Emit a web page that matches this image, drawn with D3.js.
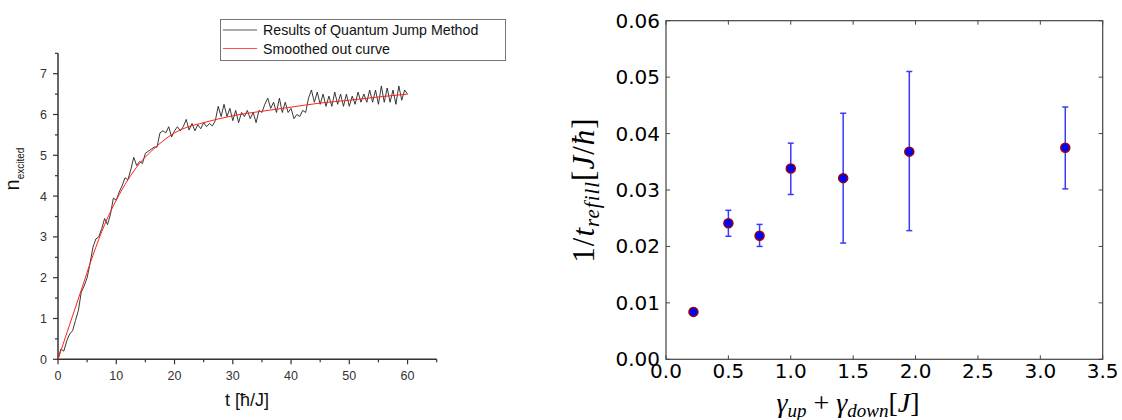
<!DOCTYPE html>
<html>
<head>
<meta charset="utf-8">
<script src="https://cdn.jsdelivr.net/npm/d3@7"></script>
<style>
  body { margin: 0; background: #fff; }
  svg { display: block; }
</style>
</head>
<body>
<div id="chart"></div>
<script>
// left panel: quantum jump run, sampled every 0.5 hbar/J
const jumpT = d3.range(0, 60.01, 0.5);
const jumpN = [
  0, 0.25, 0.2, 0.45, 0.62, 0.7, 0.95, 1.2, 1.65, 1.8,
  2.0, 2.35, 2.75, 2.95, 3.0, 3.2, 3.45, 3.3, 3.55, 3.95,
  3.9, 4.1, 4.25, 4.45, 4.4, 4.65, 4.95, 4.75, 4.85, 4.8,
  5.05, 5.1, 5.15, 5.2, 5.2, 5.55, 5.6, 5.55, 5.7, 5.45,
  5.6, 5.7, 5.6, 5.7, 5.88, 5.62, 5.78, 5.6, 5.75, 5.65,
  5.8, 5.7, 5.78, 5.72, 5.85, 6.2, 5.95, 6.25, 5.95, 6.15,
  5.85, 6.1, 5.8, 6.05, 5.95, 6.1, 5.9, 6.05, 5.8, 6.1,
  6.05, 6.25, 6.4, 6.15, 6.3, 6.05, 6.4, 6.05, 6.3, 6.05,
  6.15, 5.9, 6.0, 5.95, 6.1, 6.05, 6.4, 6.6, 6.3, 6.55,
  6.25, 6.5, 6.2, 6.45, 6.2, 6.55, 6.25, 6.5, 6.2, 6.5,
  6.2, 6.45, 6.25, 6.55, 6.3, 6.5, 6.3, 6.6, 6.3, 6.6,
  6.25, 6.7, 6.3, 6.65, 6.3, 6.6, 6.25, 6.7, 6.35, 6.6,
  6.5
];

// smoothed curve
const smoothT = [0, 2, 4, 6, 8, 10, 12, 14, 16, 18, 20, 22, 25, 30, 35, 40, 45, 50, 55, 60];
const smoothN = [0, 0.85, 1.7, 2.55, 3.3, 3.9, 4.4, 4.8, 5.1, 5.35, 5.55, 5.68, 5.8, 5.97, 6.08, 6.18, 6.28, 6.35, 6.43, 6.5];

const legendLabels = ['Results of Quantum Jump Method', 'Smoothed out curve'];

// right panel: refill rate vs total rate
const gammaSum = [0.22, 0.5, 0.75, 1.0, 1.42, 1.95, 3.2];
const refillRate = [0.0084, 0.0241, 0.0219, 0.0338, 0.0321, 0.0368, 0.0375];
const errLow = [0.0078, 0.0218, 0.0200, 0.0292, 0.0206, 0.0228, 0.0302];
const errHigh = [0.0090, 0.0264, 0.0239, 0.0383, 0.0436, 0.0510, 0.0447];

const xTicksR = [0, 0.5, 1, 1.5, 2, 2.5, 3, 3.5];
const yTicksR = [0, 0.01, 0.02, 0.03, 0.04, 0.05, 0.06];

let svg = d3.select('#chart').append('svg')
    .attr('width', 1122)
    .attr('height', 420);

drawLeft();
drawRight();

function drawLeft() {
  const axisColor = '#333';
  let g = svg.append('g');

  let x = d3.scaleLinear().domain([0, 65]).range([58, 436.7]);
  let y = d3.scaleLinear().domain([0, 7.5]).range([359.3, 53.3]);

  // axis lines
  g.append('line')
      .attr('x1', x(0)).attr('x2', x(0))
      .attr('y1', y(0)).attr('y2', y(7.5))
      .attr('stroke', axisColor).attr('stroke-width', 1.5);
  g.append('line')
      .attr('x1', x(0)).attr('x2', x(65))
      .attr('y1', y(0)).attr('y2', y(0))
      .attr('stroke', axisColor).attr('stroke-width', 1.5);

  // y ticks (major every 1, minor every .5)
  d3.range(0, 7.51, 0.5).forEach(v => {
    let major = Math.abs(v - Math.round(v)) < 1e-6;
    g.append('line')
        .attr('x1', x(0)).attr('x2', x(0) - (major ? 5 : 3))
        .attr('y1', y(v)).attr('y2', y(v))
        .attr('stroke', axisColor).attr('stroke-width', 1.2);
    if (major && v <= 7) {
      g.append('text')
          .attr('x', 47).attr('y', y(v) + 4.5)
          .attr('text-anchor', 'end')
          .attr('font-family', 'Liberation Sans, Arial, sans-serif')
          .attr('font-size', 12.5)
          .attr('fill', '#333')
          .text(v);
    }
  });

  // x ticks (major every 10, minor every 5)
  d3.range(0, 65.1, 5).forEach(v => {
    let major = v % 10 === 0;
    g.append('line')
        .attr('x1', x(v)).attr('x2', x(v))
        .attr('y1', y(0)).attr('y2', y(0) + (major ? 5 : 3))
        .attr('stroke', axisColor).attr('stroke-width', 1.2);
    if (major) {
      g.append('text')
          .attr('x', x(v)).attr('y', 380)
          .attr('text-anchor', 'middle')
          .attr('font-family', 'Liberation Sans, Arial, sans-serif')
          .attr('font-size', 12.5)
          .attr('fill', '#333')
          .text(v);
    }
  });

  // curves
  let noisy = d3.line()
      .x((d, i) => x(jumpT[i]))
      .y(d => y(d));
  g.append('path')
      .datum(jumpN)
      .attr('d', noisy)
      .attr('fill', 'none')
      .attr('stroke', '#222')
      .attr('stroke-width', 0.9);

  let smooth = d3.line()
      .x((d, i) => x(smoothT[i]))
      .y(d => y(d))
      .curve(d3.curveMonotoneX);
  g.append('path')
      .datum(smoothN)
      .attr('d', smooth)
      .attr('fill', 'none')
      .attr('stroke', '#ff2020')
      .attr('stroke-width', 1);

  // legend
  g.append('rect')
      .attr('x', 220.5).attr('y', 19.5)
      .attr('width', 285).attr('height', 41)
      .attr('fill', '#fff')
      .attr('stroke', '#777').attr('stroke-width', 1);
  let legendColors = ['#555', '#ff5050'];
  legendLabels.forEach((label, i) => {
    let ly = 30 + i * 18.5;
    g.append('line')
        .attr('x1', 223).attr('x2', 257)
        .attr('y1', ly).attr('y2', ly)
        .attr('stroke', legendColors[i]).attr('stroke-width', 1);
    g.append('text')
        .attr('x', 263).attr('y', ly + 5)
        .attr('font-family', 'Liberation Sans, Arial, sans-serif')
        .attr('font-size', 14.2)
        .attr('fill', '#111')
        .text(label);
  });

  // axis titles
  g.append('text')
      .attr('x', 247).attr('y', 406)
      .attr('text-anchor', 'middle')
      .attr('font-family', 'Liberation Sans, Arial, sans-serif')
      .attr('font-size', 18)
      .attr('fill', '#111')
      .text('t [ħ/J]');

  let yt = g.append('text')
      .attr('transform', 'translate(18.5,169) rotate(-90)')
      .attr('text-anchor', 'middle')
      .attr('font-family', 'Liberation Sans, Arial, sans-serif')
      .attr('fill', '#111');
  yt.append('tspan').attr('font-size', 20).text('n');
  yt.append('tspan').attr('font-size', 10).attr('dy', 5).text('excited');
}

function drawRight() {
  let g = svg.append('g');
  const frameColor = '#444';
  const tickFont = 'DejaVu Sans, sans-serif';

  let x = d3.scaleLinear().domain([0, 3.5]).range([666, 1102.7]);
  let y = d3.scaleLinear().domain([0, 0.06]).range([359.3, 20.7]);

  // frame
  g.append('rect')
      .attr('x', x(0)).attr('y', y(0.06))
      .attr('width', x(3.5) - x(0)).attr('height', y(0) - y(0.06))
      .attr('fill', 'none')
      .attr('stroke', frameColor).attr('stroke-width', 1.2);

  // inward ticks on all sides
  xTicksR.forEach(v => {
    g.append('line')
        .attr('x1', x(v)).attr('x2', x(v))
        .attr('y1', y(0)).attr('y2', y(0) - 4)
        .attr('stroke', frameColor);
    g.append('line')
        .attr('x1', x(v)).attr('x2', x(v))
        .attr('y1', y(0.06)).attr('y2', y(0.06) + 4)
        .attr('stroke', frameColor);
    g.append('text')
        .attr('x', x(v)).attr('y', 378)
        .attr('text-anchor', 'middle')
        .attr('font-family', tickFont)
        .attr('font-size', 20)
        .attr('fill', '#000')
        .text(d3.format('.1f')(v));
  });
  yTicksR.forEach(v => {
    g.append('line')
        .attr('x1', x(0)).attr('x2', x(0) + 4)
        .attr('y1', y(v)).attr('y2', y(v))
        .attr('stroke', frameColor);
    g.append('line')
        .attr('x1', x(3.5)).attr('x2', x(3.5) - 4)
        .attr('y1', y(v)).attr('y2', y(v))
        .attr('stroke', frameColor);
    g.append('text')
        .attr('x', 660).attr('y', y(v) + 7)
        .attr('text-anchor', 'end')
        .attr('font-family', tickFont)
        .attr('font-size', 20)
        .attr('fill', '#000')
        .text(d3.format('.2f')(v));
  });

  // error bars
  let bars = g.selectAll('g.err')
      .data(gammaSum)
      .enter()
      .append('g')
      .attr('class', 'err');
  bars.append('line')
      .attr('x1', d => x(d)).attr('x2', d => x(d))
      .attr('y1', (d, i) => y(errLow[i])).attr('y2', (d, i) => y(errHigh[i]))
      .attr('stroke', '#3a3aff').attr('stroke-width', 1.5);
  bars.append('line')
      .attr('x1', d => x(d) - 3).attr('x2', d => x(d) + 3)
      .attr('y1', (d, i) => y(errLow[i])).attr('y2', (d, i) => y(errLow[i]))
      .attr('stroke', '#3a3aff').attr('stroke-width', 1.5);
  bars.append('line')
      .attr('x1', d => x(d) - 3).attr('x2', d => x(d) + 3)
      .attr('y1', (d, i) => y(errHigh[i])).attr('y2', (d, i) => y(errHigh[i]))
      .attr('stroke', '#3a3aff').attr('stroke-width', 1.5);

  // markers
  g.selectAll('circle')
      .data(gammaSum)
      .enter()
      .append('circle')
      .attr('cx', d => x(d))
      .attr('cy', (d, i) => y(refillRate[i]))
      .attr('r', 4.5)
      .attr('fill', '#0000ff')
      .attr('stroke', '#9a0000')
      .attr('stroke-width', 1.5);

  // axis titles (math style)
  const mathFont = 'Liberation Serif, DejaVu Serif, serif';
  let xt = g.append('text')
      .attr('x', 848).attr('y', 412)
      .attr('text-anchor', 'middle')
      .attr('font-family', mathFont)
      .attr('font-size', 28)
      .attr('fill', '#000');
  xt.append('tspan').attr('font-style', 'italic').text('γ');
  xt.append('tspan').attr('font-style', 'italic').attr('font-size', 19).attr('dy', 5).text('up');
  xt.append('tspan').attr('dy', -5).text(' + ');
  xt.append('tspan').attr('font-style', 'italic').text('γ');
  xt.append('tspan').attr('font-style', 'italic').attr('font-size', 19).attr('dy', 5).text('down');
  xt.append('tspan').attr('dy', -5).text('[');
  xt.append('tspan').attr('font-style', 'italic').text('J');
  xt.append('tspan').text(']');

  let yt = g.append('text')
      .attr('transform', 'translate(594,190) rotate(-90)')
      .attr('text-anchor', 'middle')
      .attr('font-family', mathFont)
      .attr('font-size', 31)
      .attr('letter-spacing', 1)
      .attr('fill', '#000');
  yt.append('tspan').text('1/');
  yt.append('tspan').attr('font-style', 'italic').text('t');
  yt.append('tspan').attr('font-style', 'italic').attr('font-size', 21).attr('dy', 5).text('refill');
  yt.append('tspan').attr('dy', -5).text('[');
  yt.append('tspan').attr('font-style', 'italic').text('J');
  yt.append('tspan').text('/');
  yt.append('tspan').attr('font-style', 'italic').text('ħ');
  yt.append('tspan').text(']');
}
</script>
</body>
</html>
